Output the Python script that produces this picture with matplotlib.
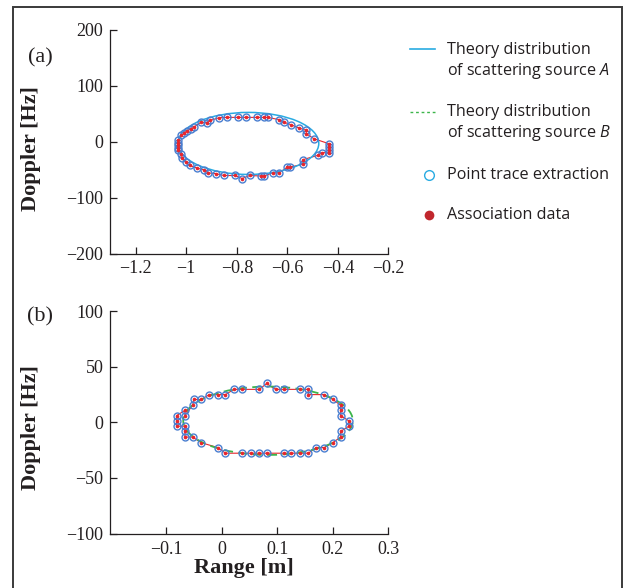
import matplotlib
matplotlib.use("Agg")
import matplotlib.pyplot as plt
from matplotlib.patches import Ellipse, Rectangle
from matplotlib.lines import Line2D

# panel (a): extracted trace points (range [m], doppler [Hz])
a_range = [-1.032, -1.032, -1.032, -1.032, -1.032, -1.019, -1.008, -0.998, -0.982, -0.968,
           -0.942, -0.917, -0.904, -0.870, -0.838, -0.794, -0.765, -0.720, -0.691, -0.678,
           -0.631, -0.613, -0.584, -0.555, -0.525, -0.525, -0.495, -0.436, -0.436, -0.436,
           -0.436, -0.462, -0.479, -0.538, -0.538, -0.588, -0.601, -0.631, -0.658, -0.691,
           -0.704, -0.749, -0.779, -0.806, -0.851, -0.883, -0.914, -0.931, -0.958, -0.987,
           -1.002, -1.016, -1.019]
a_doppler = [-14.0, -10.7, -6.7, -2.0, 2.7, 11.4, 15.4, 19.5, 22.8, 26.8,
             34.9, 34.2, 38.3, 43.0, 43.6, 43.6, 43.6, 43.6, 43.6, 43.6,
             39.5, 34.9, 30.2, 24.8, 20.4, 14.5, 5.5, -3.4, -9.5, -15.4,
             -19.5, -19.5, -24.3, -32.0, -40.3, -45.2, -46.0, -55.3, -55.3, -61.3,
             -61.3, -60.4, -65.8, -60.4, -60.4, -57.0, -55.7, -50.3, -47.0, -42.3,
             -36.9, -28.9, -22.0]

# panel (b)
b_range = [-0.081, -0.081, -0.081, -0.066, -0.066, -0.052, -0.050, -0.037, -0.022, -0.007,
           0.007, 0.022, 0.037, 0.068, 0.081, 0.097, 0.112, 0.141, 0.156, 0.156,
           0.185, 0.200, 0.214, 0.214, 0.214, 0.229, 0.229, 0.214, 0.214, 0.200,
           0.185, 0.170, 0.156, 0.141, 0.125, 0.112, 0.081, 0.068, 0.052, 0.037,
           0.007, -0.007, -0.037, -0.052, -0.066, -0.066, -0.066]
b_doppler = [-3.4, 1.3, 6.1, 10.8, 6.1, 15.5, 20.6, 20.6, 25.0, 25.0,
             25.0, 29.7, 29.7, 29.7, 35.0, 29.7, 29.7, 29.7, 29.7, 25.0,
             25.0, 20.6, 15.5, 10.8, 6.1, 1.3, -3.4, -8.1, -13.2, -18.2,
             -22.6, -22.6, -27.7, -27.7, -27.7, -27.7, -27.7, -27.7, -27.7, -27.7,
             -27.7, -22.6, -18.2, -13.2, -13.2, -8.1, -3.4]

# theory ellipses: centre, full width (m), full height (Hz)
theory_a = (-0.754, -3.0, 0.557, 111.0)
theory_b = (0.0835, 1.5, 0.305, 61.5)

ylims = [(-200, 200), (-100, 100)]
xlims = [(-1.3, -0.2), (-0.2, 0.3)]
yticks = [[-200, -100, 0, 100, 200], [-100, -50, 0, 50, 100]]
xticks = [[-1.2, -1, -0.8, -0.6, -0.4, -0.2], [-0.1, 0, 0.1, 0.2, 0.3]]

BLUE = "#29abe2"
RING = "#4a7fd0"
RED = "#e8262d"
GREEN = "#3cb54a"
INK = "#231f20"

plt.rcParams["font.family"] = ["Liberation Serif", "DejaVu Serif"]
plt.rcParams["mathtext.fontset"] = "custom"
plt.rcParams["mathtext.it"] = "Open Sans:italic"
plt.rcParams["axes.unicode_minus"] = True

W, H = 629, 588
fig = plt.figure(figsize=(W / 100, H / 100), dpi=100)


def fx(px):
    return px / W


def fy(py):
    return 1 - py / H


ax_a = fig.add_axes([fx(110.4), fy(253.5), fx(388.4) - fx(110.4), fy(30) - fy(253.5)])
ax_b = fig.add_axes([fx(110.4), fy(533.6), fx(388.4) - fx(110.4), fy(311.2) - fy(533.6)])

panels = [(ax_a, a_range, a_doppler, theory_a, BLUE, "-", 1.1),
          (ax_b, b_range, b_doppler, theory_b, GREEN, (0, (5, 3)), 1.3)]

for i, (ax, xr, yd, th, col, ls, lw) in enumerate(panels):
    ax.add_patch(Ellipse((th[0], th[1]), th[2], th[3], fill=False,
                         edgecolor=col, lw=lw, linestyle=ls, zorder=3.5))
    ax.plot(xr + xr[:1], yd + yd[:1], color=RED, lw=0.8, zorder=3)
    ax.plot(xr, yd, "o", mfc="none", mec=RING, mew=1.0, ms=5.0, zorder=4)
    ax.plot(xr, yd, "o", color=RED, ms=2.6, mew=0, zorder=5)
    ax.set_xlim(*xlims[i])
    ax.set_ylim(*ylims[i])
    ax.set_xticks(xticks[i])
    ax.set_yticks(yticks[i])
    ax.set_xticklabels([f"{v:g}".replace("-", "\u2212") for v in xticks[i]])
    ax.set_yticklabels([f"{v:g}".replace("-", "\u2212") for v in yticks[i]])
    for s in ["top", "right"]:
        ax.spines[s].set_visible(False)
    for s in ["left", "bottom"]:
        ax.spines[s].set_color(INK)
        ax.spines[s].set_linewidth(0.9)
    ax.tick_params(direction="in", length=5, width=0.9, color=INK,
                   labelsize=13, labelcolor=INK, pad=5)
    ax.patch.set_alpha(0)

# axis labels
fig.text(fx(31), fy(149), "Doppler [Hz]", rotation=90, ha="center", va="center",
         fontsize=16, fontweight="bold", color=INK)
fig.text(fx(31), fy(428), "Doppler [Hz]", rotation=90, ha="center", va="center",
         fontsize=16, fontweight="bold", color=INK)
fig.text(fx(244), fy(568), "Range [m]", ha="center", va="center",
         fontsize=16, fontweight="bold", color=INK)
fig.text(fx(40), fy(58), "(a)", ha="center", va="center", fontsize=16, color=INK)
fig.text(fx(40), fy(317), "(b)", ha="center", va="center", fontsize=16, color=INK)

# legend
lx0, lx1, tx = fx(409.6), fx(435), fx(447)
sans = ["Open Sans", "DejaVu Sans"]
fig.add_artist(Line2D([lx0, lx1], [fy(49)] * 2, color=BLUE, lw=1.2, transform=fig.transFigure))
fig.add_artist(Line2D([lx0, lx1], [fy(112)] * 2, color=GREEN, lw=1.0, linestyle=(0, (2, 2)),
                      transform=fig.transFigure))
fig.add_artist(Line2D([fx(428.5)], [fy(175)], marker="o", mfc="none", mec=BLUE, mew=1.0, ms=7,
                      transform=fig.transFigure))
fig.add_artist(Line2D([fx(428.5)], [fy(215)], marker="o", color="#c1272d", ms=7, mew=0,
                      transform=fig.transFigure))
legend_texts = [(50, "Theory distribution"), (71, "of scattering source $A$"),
                (112, "Theory distribution"), (133, "of scattering source $B$"),
                (175, "Point trace extraction"), (215, "Association data")]
for py, t in legend_texts:
    fig.text(tx, fy(py), t, ha="left", va="center", fontsize=11.6, family=sans, color=INK)

# outer frame
fig.add_artist(Rectangle((fx(13), -0.1), fx(622) - fx(13), fy(7.5) + 0.1, fill=False,
                         edgecolor="#3a3a3a", lw=1.4, transform=fig.transFigure))

fig.savefig("out.png", dpi=100)
